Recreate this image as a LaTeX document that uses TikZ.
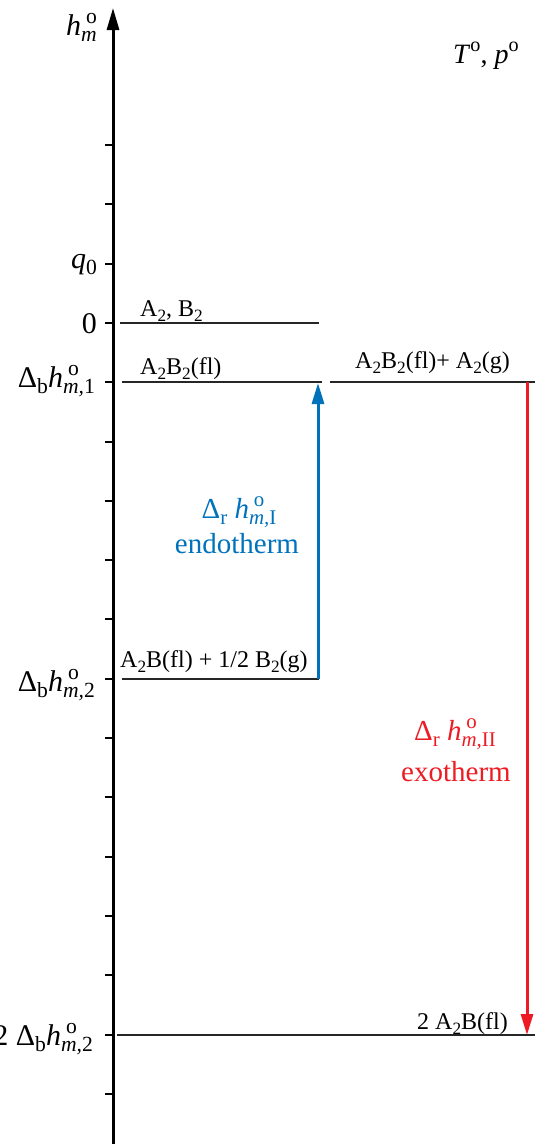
\documentclass[tikz,border=0pt]{standalone}
\usepackage{graphicx}
\usepackage{fontspec}
\setmainfont{Liberation Serif}
\usetikzlibrary{arrows.meta}
\definecolor{eblue}{RGB}{0,114,188}
\definecolor{ered}{RGB}{237,28,36}
\newcommand\dsub[1]{\raisebox{-0.22em}{\scalebox{0.72}{#1}}}
\newcommand\usup[1]{\raisebox{0.4em}{\scalebox{0.72}{#1}}}
\newcommand\hmo[1]{\textit{h}\rlap{\,\usup{o}}\dsub{\textit{m,}#1}}
\begin{document}
\begin{tikzpicture}[x=1pt,y=-1pt,
  axislbl/.style={font=\fontsize{30}{32}\selectfont, anchor=base east, inner sep=0},
  chem/.style={font=\fontsize{24}{26}\selectfont, anchor=base west, inner sep=0},
  colbl/.style={font=\fontsize{29}{31}\selectfont, anchor=base, inner sep=0},
  level/.style={line width=1.5pt, draw=black!85},
  tickmark/.style={line width=2pt},
  reac/.style={line width=3pt, -{Triangle[length=21pt,width=12pt]}}]
\useasboundingbox (0,0) rectangle (539,1144);
% axis
\coordinate (ax0) at (113,1144);
\coordinate (ax1) at (113,8);
\draw[line width=3pt, -{Triangle[length=22pt,width=12pt]}] (ax0) -- (ax1);
\foreach \k in {0,...,16}
  \draw[tickmark] (105,{145+59.3*\k}) -- (113,{145+59.3*\k});
% axis labels
\node[axislbl] (hm) at (97,35) {\textit{h}\rlap{\,\usup{o}}\dsub{\textit{m}}};
\node[axislbl, font=\fontsize{28}{30}\selectfont, anchor=base west] (Tp) at (453,63) {\textit{T}\usup{o}, \textit{p}\usup{o}};
\node[axislbl] (q0) at (97,268) {\textit{q}\dsub{0}};
\node[axislbl] (zero) at (97,333) {0};
\node[axislbl] (db1) at (95,387) {Δ\dsub{b}\hmo{1}};
\node[axislbl] (db2) at (95,691) {Δ\dsub{b}\hmo{2}};
\node[axislbl] (db3) at (93,1045) {2 Δ\dsub{b}\hmo{2}};
% levels
\coordinate (l0a) at (120,323); \coordinate (l0b) at (319,323);
\coordinate (l1a) at (122,382); \coordinate (l1b) at (322,382);
\coordinate (l1c) at (330,382); \coordinate (l1d) at (535,382);
\coordinate (l2a) at (122,679); \coordinate (l2b) at (319,679);
\coordinate (l3a) at (117,1035); \coordinate (l3b) at (535,1035);
\draw[level] (l0a) -- (l0b);
\draw[level] (l1a) -- (l1b);
\draw[level] (l1c) -- (l1d);
\draw[level] (l2a) -- (l2b);
\draw[level] (l3a) -- (l3b);
% species
\node[chem] (s0) at (140,316) {A\dsub{2}, B\dsub{2}};
\node[chem] (s1) at (140,374) {A\dsub{2}B\dsub{2}(fl)};
\node[chem] (s1r) at (355,368) {A\dsub{2}B\dsub{2}(fl)+ A\dsub{2}(g)};
\node[chem] (s2) at (120,667) {A\dsub{2}B(fl) + 1/2 B\dsub{2}(g)};
\node[chem, anchor=base east] (s3) at (508,1029) {2 A\dsub{2}B(fl)};
% reaction arrows
\coordinate (bs) at (318,679); \coordinate (be) at (318,383);
\coordinate (rs) at (527,382); \coordinate (re) at (527,1035);
\draw[reac, eblue] (bs) -- (be);
\draw[reac, ered] (rs) -- (re);
\node[colbl, eblue] (bl1) at (239,518) {Δ\dsub{r} \hmo{I}};
\node[colbl, eblue] (bl2) at (237,553) {endotherm};
\node[colbl, ered] (rl1) at (455,740) {Δ\dsub{r} \hmo{II}};
\node[colbl, ered] (rl2) at (456,781) {exotherm};
\end{tikzpicture}
\end{document}
